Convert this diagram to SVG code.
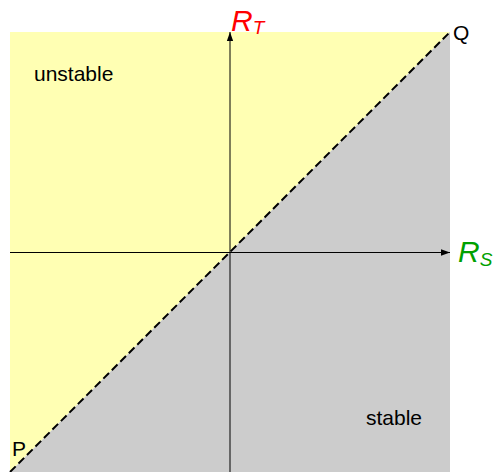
<svg xmlns="http://www.w3.org/2000/svg" width="496" height="472" viewBox="0 0 496 472">
<defs>
<style>
.lbl{font-family:"Liberation Sans",Arial,sans-serif;font-size:21px;fill:#000}
.ax{font-family:"Liberation Sans",Arial,sans-serif;font-style:italic}
.axis{stroke:#000;stroke-width:1;fill:none}
</style>
<marker id="ah" viewBox="0 0 10 10" refX="10" refY="5" markerWidth="9" markerHeight="9" markerUnits="userSpaceOnUse" orient="auto">
<path d="M0,1.5 L10,5 L0,8.5 Z" fill="#000"/>
</marker>
</defs>
<g id="regions">
<polygon id="unstable-region" points="10,32 450,32 10,472" fill="#ffffb3"/>
<polygon id="stable-region" points="450,32 450,472 10,472" fill="#cccccc"/>
</g>
<g id="connectors">
<line class="axis" x1="230" y1="472" x2="230" y2="32" marker-end="url(#ah)"/>
<line class="axis" x1="10" y1="252.5" x2="450" y2="252.5" marker-end="url(#ah)"/>
<line x1="10" y1="472" x2="450" y2="32" stroke="#000" stroke-width="2" stroke-dasharray="8,4"/>
</g>
<g id="label-unstable"><text class="lbl" x="34" y="81">unstable</text></g>
<g id="label-stable"><text class="lbl" x="366" y="425">stable</text></g>
<g id="label-P"><text class="lbl" x="12" y="456" font-size="19">P</text></g>
<g id="label-Q"><text class="lbl" x="453" y="40" font-size="19">Q</text></g>
<g id="label-RT"><text class="ax" x="231" y="31" font-size="30" fill="#ff0000">R<tspan font-size="19" dy="3">T</tspan></text></g>
<g id="label-RS"><text class="ax" x="458" y="262" font-size="30" fill="#00a000">R<tspan font-size="19" dy="4">S</tspan></text></g>
</svg>
